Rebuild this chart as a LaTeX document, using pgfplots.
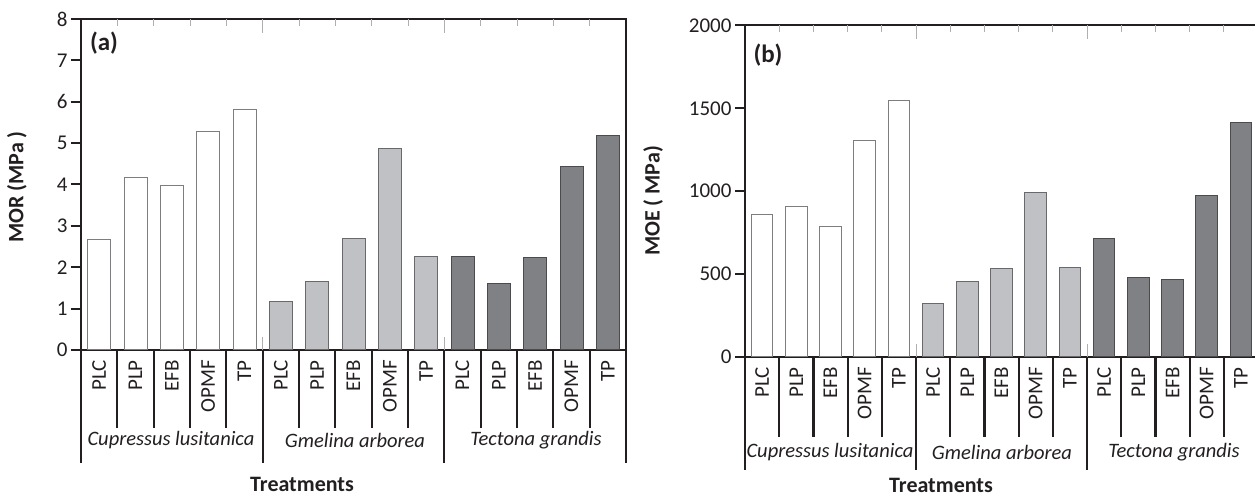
\documentclass[border=0pt]{standalone}
\usepackage{pgfplots}
\pgfplotsset{compat=1.18}
\usepackage{fontspec}
\setmainfont{Carlito}
\definecolor{lightbar}{RGB}{192,193,197}
\definecolor{darkbar}{RGB}{128,129,133}
\definecolor{axblack}{RGB}{35,31,32}
\definecolor{edgeW}{RGB}{125,125,128}
\definecolor{edgeL}{RGB}{105,105,108}
\definecolor{edgeD}{RGB}{75,75,78}
\definecolor{tickgray}{RGB}{175,175,178}

\tikzset{
 sep/.style={axblack, line width=2.2pt},
 tk/.style={tickgray, line width=0.9pt},
}
\pgfplotsset{
 panel/.style={
  scale only axis, anchor=south west,
  xmin=-0.5, xmax=14.5, ymin=0,
  axis line style={axblack, line width=2.2pt},
  tick align=outside,
  ytick pos=left,
  xtick={0,...,14},
  xticklabels={PLC,PLP,EFB,OPMF,TP,PLC,PLP,EFB,OPMF,TP,PLC,PLP,EFB,OPMF,TP},
  xtick style={draw=none},
  ytick style={axblack, line width=2pt},
  major tick length=10pt,
  xticklabel shift=0pt,
  x tick label style={rotate=90, anchor=east, inner sep=0pt, font=\fontsize{21}{24}\selectfont, text=axblack},
  y tick label style={font=\fontsize{21}{24}\selectfont, text=axblack},
  /pgf/number format/assume math mode=true,
  /pgf/number format/1000 sep={},
  clip=false,
  ybar,
 },
}

\begin{document}
\begin{tikzpicture}
\useasboundingbox (0,0) rectangle (1255pt,497pt);

% ---------------- Panel (a) ----------------
\begin{axis}[panel, at={(81pt,147pt)}, width=545pt, height=331pt,
  ymax=8, ytick={0,1,...,8}]
\addplot[fill=white, draw=edgeW, line width=1pt, bar width=23pt, bar shift=0pt]
  coordinates {(0,2.68) (1,4.18) (2,3.98) (3,5.28) (4,5.81)};
\addplot[fill=lightbar, draw=edgeL, line width=1pt, bar width=23pt, bar shift=0pt]
  coordinates {(5,1.17) (6,1.65) (7,2.70) (8,4.87) (9,2.25)};
\addplot[fill=darkbar, draw=edgeD, line width=1pt, bar width=23pt, bar shift=0pt]
  coordinates {(10,2.27) (11,1.60) (12,2.23) (13,4.43) (14,5.18)};
\pgfplotsinvokeforeach{0.5,1.5,2.5,3.5,5.5,6.5,7.5,8.5,10.5,11.5,12.5,13.5}{
  \draw[tk] (axis cs:#1,8) -- ++(0pt,-7pt);
  \draw[sep] (axis cs:#1,0) -- ++(0pt,-78pt);
}
\pgfplotsinvokeforeach{4.5,9.5}{
  \draw[tk] (axis cs:#1,8) -- ++(0pt,-14pt);
  \draw[tk] (axis cs:#1,0) -- ++(0pt,13pt);
  \draw[sep] (axis cs:#1,0) -- ++(0pt,-113pt);
}
\pgfplotsinvokeforeach{-0.5,14.5}{
  \draw[sep] (axis cs:#1,0) -- ++(0pt,-113pt);
}
\end{axis}

% ---------------- Panel (b) ----------------
\begin{axis}[panel, at={(745pt,140pt)}, width=513pt, height=331.6pt,
  ymax=2000, ytick={0,500,...,2000}]
\addplot[fill=white, draw=edgeW, line width=1pt, bar width=21.6pt, bar shift=0pt]
  coordinates {(0,858) (1,905) (2,786) (3,1306) (4,1546)};
\addplot[fill=lightbar, draw=edgeL, line width=1pt, bar width=21.6pt, bar shift=0pt]
  coordinates {(5,321) (6,454) (7,534) (8,993) (9,540)};
\addplot[fill=darkbar, draw=edgeD, line width=1pt, bar width=21.6pt, bar shift=0pt]
  coordinates {(10,712) (11,480) (12,466) (13,977) (14,1413)};
\pgfplotsinvokeforeach{0.5,1.5,2.5,3.5,5.5,6.5,7.5,8.5,10.5,11.5,12.5,13.5}{
  \draw[tk] (axis cs:#1,2000) -- ++(0pt,-7pt);
  \draw[sep] (axis cs:#1,0) -- ++(0pt,-80pt);
}
\pgfplotsinvokeforeach{4.5,9.5}{
  \draw[tk] (axis cs:#1,2000) -- ++(0pt,-14pt);
  \draw[tk] (axis cs:#1,0) -- ++(0pt,13pt);
  \draw[sep] (axis cs:#1,0) -- ++(0pt,-113pt);
}
\pgfplotsinvokeforeach{-0.5,14.5}{
  \draw[sep] (axis cs:#1,0) -- ++(0pt,-113pt);
}
\end{axis}

% ---------------- Texts ----------------
\begin{scope}[every node/.style={text=axblack, inner sep=0pt}]
\node[font=\bfseries\fontsize{25}{28}\selectfont] at (104pt,454pt) {(a)};
\node[font=\bfseries\fontsize{25}{28}\selectfont] at (768pt,442pt) {(b)};
\node[rotate=90, font=\bfseries\fontsize{22}{24}\selectfont] at (17pt,310pt) {MOR (MPa )};
\node[rotate=90, font=\bfseries\fontsize{22}{24}\selectfont] at (653pt,296pt) {MOE ( MPa)};
\node[font=\itshape\fontsize{20.5}{23}\selectfont] at (171pt,57pt) {Cupressus lusitanica};
\node[font=\itshape\fontsize{20.5}{23}\selectfont] at (355pt,57pt) {Gmelina arborea};
\node[font=\itshape\fontsize{20.5}{23}\selectfont] at (536pt,57pt) {Tectona grandis};
\node[font=\itshape\fontsize{20.5}{23}\selectfont] at (830pt,45pt) {Cupressus lusitanica};
\node[font=\itshape\fontsize{20.5}{23}\selectfont] at (1002pt,45pt) {Gmelina arborea};
\node[font=\itshape\fontsize{20.5}{23}\selectfont] at (1174pt,45pt) {Tectona grandis};
\node[font=\bfseries\fontsize{22}{25}\selectfont] at (302pt,13pt) {Treatments};
\node[font=\bfseries\fontsize{22}{25}\selectfont] at (941pt,12pt) {Treatments};
\end{scope}
\end{tikzpicture}
\end{document}
